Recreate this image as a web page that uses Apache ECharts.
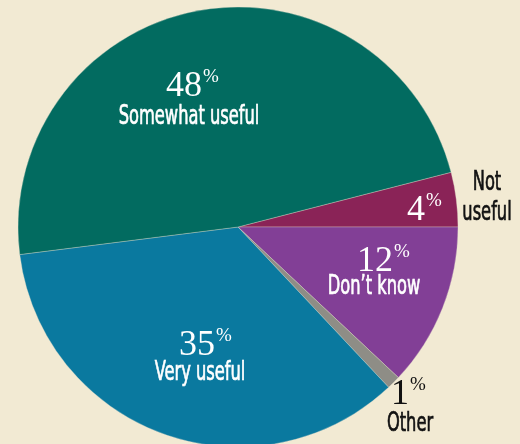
<!DOCTYPE html>
<html>
<head>
<meta charset="utf-8">
<script src="https://cdn.jsdelivr.net/npm/echarts@6/dist/echarts.min.js"></script>
<style>
  html, body { margin: 0; padding: 0; background: #F2EAD3; }
  #chart { width: 520px; height: 444px; }
</style>
</head>
<body>
<div id="chart"></div>
<script>
// Survey answers, in clockwise order starting just above 3 o'clock
const categories = ['Not useful', "Don\u2019t know", 'Other', 'Very useful', 'Somewhat useful'];
const shares = [4, 12, 1, 35, 48];
const sliceColors = ['#8A2357', '#823F96', '#8E8D86', '#0A799F', '#026B60'];

// Where each answer's figure and caption sit, relative to the pie centre:
// num = right edge / baseline of the digits, name = centre / baseline of the caption
const labelSpots = {
  'Somewhat useful': { num: [-36, -131], name: [-49, -100], dark: false },
  'Very useful':     { num: [-23, 128],  name: [-38, 156],  dark: false },
  "Don\u2019t know": { num: [155, 44],   name: [136, 70],   dark: false },
  'Not useful':      { num: [187, -7],   name: [249, -34],  dark: true, numLight: true, lines: ['Not', 'useful'] },
  'Other':           { num: [171, 177],  name: [172, 207],  dark: true }
};

const center = [238, 227];
const radius = 220;
const startAngle = 14.4;

const numFont = '"Liberation Serif", "DejaVu Serif", serif';
const nameFont = '"DejaVu Sans Condensed", "DejaVu Sans", sans-serif';
const NUM_SIZE = 36, PCT_SIZE = 19, NAME_SIZE = 27, NAME_SQUEEZE = 0.67;

function textEl(x, y, str, font, size, color, align, vAlign, extra, styleExtra) {
  return Object.assign({
    type: 'text', x: x, y: y, z: 100, silent: true,
    style: Object.assign({
      text: str, fontFamily: font, fontSize: size, fill: color,
      align: align, verticalAlign: vAlign, textAlign: align, textVerticalAlign: vAlign
    }, styleExtra || {})
  }, extra || {});
}

// Captions and percentages, built from the same arrays as the slices
const labels = [];
categories.forEach(function (cat, i) {
  const spot = labelSpots[cat];
  if (!spot) return;
  const numColor = (spot.dark && !spot.numLight) ? '#111111' : '#FFFFFF';
  const nameColor = spot.dark ? '#111111' : '#FFFFFF';
  const nx = center[0] + spot.num[0], ny = center[1] + spot.num[1] + 3;
  labels.push(textEl(nx, ny - 0.34 * NUM_SIZE, String(shares[i]), numFont, NUM_SIZE, numColor, 'right', 'middle'));
  labels.push(textEl(nx + 1, ny - 0.66 * NUM_SIZE - 8, '%', numFont, PCT_SIZE, numColor, 'left', 'top'));
  const lines = spot.lines || [cat];
  lines.forEach(function (ln, k) {
    labels.push(textEl(center[0] + spot.name[0], center[1] + spot.name[1] + k * 30 - 0.36 * NAME_SIZE,
      ln, nameFont, NAME_SIZE, nameColor, 'center', 'middle', { scaleX: NAME_SQUEEZE },
      { stroke: nameColor, lineWidth: 0.7 }));
  });
});

const chart = echarts.init(document.getElementById('chart'), null, { renderer: 'canvas' });
chart.setOption({
  backgroundColor: '#F2EAD3',
  animation: false,
  graphic: labels,
  series: [{
    type: 'pie',
    center: center,
    radius: radius,
    startAngle: startAngle,
    clockwise: true,
    silent: true,
    itemStyle: { borderColor: 'rgba(230,225,205,0.55)', borderWidth: 0.6 },
    label: { show: false },
    labelLine: { show: false },
    data: categories.map((c, i) => ({ name: c, value: shares[i], itemStyle: { color: sliceColors[i] } }))
  }]
});
</script>
</body>
</html>
